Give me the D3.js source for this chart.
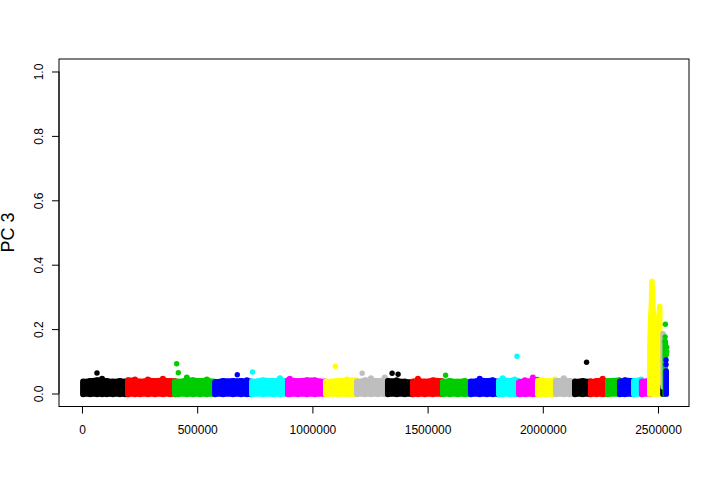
<!DOCTYPE html>
<html><head><meta charset="utf-8">
<script src="https://cdnjs.cloudflare.com/ajax/libs/d3/7.8.5/d3.min.js"></script>
<style>html,body{margin:0;padding:0;background:#fff}svg{display:block}text{font-family:"Liberation Sans",sans-serif;fill:#000}</style>
</head><body><svg id="c" width="720" height="480"></svg>
<script>
const BLACK="#000000",RED="#ff0000",GREEN="#00cd00",BLUE="#0000ff",CYAN="#00ffff",MAGENTA="#ff00ff",YELLOW="#ffff00",GRAY="#bebebe";
const seriesColors=[BLACK,RED,GREEN,BLUE,CYAN,MAGENTA,YELLOW,GRAY,BLACK,RED,GREEN,BLUE,CYAN,MAGENTA,YELLOW,GRAY,BLACK,RED,GREEN,BLUE,CYAN,MAGENTA,YELLOW,BLACK,GRAY,GREEN,BLUE];
const seriesPos=[
[5000,35000,65000,87000,108000,134000,165000,187000,200000],
[200000,230000,252000,286000,317000,351000,382000,403000],
[404000,416000,455000,482000,512000,542000,573000],
[578000,612000,655000,690000,716000,733000],
[738000,785000,829000,859000,889000],
[894000,902000,937000,976000,1011000,1054000],
[1059000,1106000,1150000,1189000],
[1194000,1228000,1254000,1284000,1314000,1323000],
[1328000,1366000,1401000,1434000],
[1437000,1458000,1488000,1523000,1562000],
[1567000,1596000,1631000,1661000,1685000],
[1688000,1726000,1757000,1783000,1807000],
[1810000,1826000,1857000,1878000,1894000],
[1897000,1922000,1957000,1976000],
[1979000,1991000,2013000,2039000,2054000],
[2057000,2091000,2117000,2137000],
[2140000,2173000,2206000],
[2209000,2234000,2260000,2280000],
[2283000,2332000],
[2335000,2356000,2393000],
[2396000,2427000],
[2430000,2464000],
[2464000,2464500,2468000,2472000,2474000,2476500,2479500,2484000,2490000,2497000,2501500,2505000,2507500,2508000],
[2521000,2522000],
[2522000,2523000],
[2531000,2532000],
[2535000,2536000]
];
const seriesTop=[
[.037,.039,.041,.046,.039,.037,.039,.037,.037],
[.041,.0435,.037,.0435,.039,.0455,.039,.039],
[.037,.037,.05,.041,.039,.0435,.037],
[.035,.039,.039,.039,.041,.037],
[.037,.041,.039,.0476,.039],
[.041,.0455,.039,.041,.041,.037],
[.037,.039,.0435,.041],
[.037,.041,.0476,.039,.0497,.041],
[.039,.041,.037,.035],
[.037,.0455,.037,.041,.039],
[.037,.039,.037,.039,.035],
[.037,.0455,.039,.041,.037],
[.039,.0476,.039,.0435,.039],
[.035,.041,.0497,.043],
[.039,.041,.039,.039,.0435],
[.039,.0476,.039,.037],
[.037,.039,.037],
[.037,.039,.0455,.037],
[.039,.041],
[.037,.041,.039],
[.039,.0435],
[.037,.041],
[.04,.15,.23,.29,.349,.30,.25,.22,.21,.205,.22,.25,.27,.27],
[.02,.02],
[.186,.186],
[.16,.16],
[.07,.07]
];
const seriesBase=[-.002,-.002,-.002,-.002,-.002,-.002,-.002,-.002,-.002,-.002,-.002,-.002,-.002,-.002,-.002,-.002,-.002,-.002,-.002,-.002,-.002,-.002,-.002,-.002,.02,-.002,-.002];
const outlierPos=[65000,411000,418000,674000,740000,1100000,1216000,1346000,1372000,1578000,1888000,2190000,2532000,2531000,2530000,2538000,2538000,2536000,2535000,2535000];
const outlierVal=[.0637,.0926,.0646,.0584,.0668,.0845,.0627,.0627,.060,.0565,.1155,.097,.215,.176,.163,.144,.13,.12,.104,.09];
const outlierColor=[BLACK,GREEN,GREEN,BLUE,CYAN,YELLOW,GRAY,BLACK,BLACK,GREEN,CYAN,BLACK,GREEN,GREEN,GREEN,GREEN,GREEN,GREEN,BLUE,BLUE];
const xTicks=[0,500000,1000000,1500000,2000000,2500000];
const yTicks=[0,.2,.4,.6,.8,1];
const yAxisTitle="PC 3";

const svg=d3.select("#c");
const x=d3.scaleLinear().domain([-99826,2634549]).range([59,689]);
const y=d3.scaleLinear().domain([-.0388,1.0388]).range([406,59]);
const DOT=5.4, STEM=6, TAIL_FROM=22;

const area=d3.area().x(d=>x(d.p)).y0(d=>y(d.b)).y1(d=>y(d.v));
const gS=svg.append("g");
seriesPos.forEach((ps,i)=>{
  const c=seriesColors[i], isTail=i>=TAIL_FROM;
  const low=d3.min(seriesTop[i]);
  const rows=ps.map((p,j)=>({p,v:isTail?seriesTop[i][j]:Math.min(low+.004,seriesTop[i][j]),b:seriesBase[i]}));
  const g=gS.append("g");
  g.append("path").attr("d",area(rows)).attr("fill",c).attr("stroke",c)
    .attr("stroke-width",DOT).attr("stroke-linejoin","round");
  if(!isTail){
    g.selectAll("line").data(ps).join("line")
      .attr("x1",d=>x(d)).attr("x2",d=>x(d))
      .attr("y1",y(seriesBase[i])).attr("y2",(d,j)=>y(seriesTop[i][j]))
      .attr("stroke",c).attr("stroke-width",STEM).attr("stroke-linecap","round");
  }
});
svg.append("g").selectAll("circle").data(outlierPos).join("circle")
  .attr("cx",d=>x(d)).attr("cy",(d,i)=>y(outlierVal[i])).attr("r",DOT/2).attr("fill",(d,i)=>outlierColor[i]);

svg.append("rect").attr("x",59).attr("y",59).attr("width",630).attr("height",347.5)
  .attr("fill","none").attr("stroke","#000").attr("stroke-width",1);

const gx=svg.append("g").attr("transform","translate(0,406.5)")
  .call(d3.axisBottom(x).tickValues(xTicks).tickSize(7).tickSizeOuter(0).tickFormat(d3.format("d")));
gx.select(".domain").attr("d",`M${x(0)},0H${x(2500000)}`);
gx.selectAll("text").attr("font-size",12).attr("font-family","Liberation Sans").attr("y",19).attr("dy","0.71em");

const gy=svg.append("g").attr("transform","translate(59,0)")
  .call(d3.axisLeft(y).tickValues(yTicks).tickSize(7).tickSizeOuter(0).tickFormat(d3.format(".1f")));
gy.select(".domain").attr("d",`M0,${y(0)}V${y(1)}`);
gy.selectAll(".tick text").attr("font-size",12).attr("font-family","Liberation Sans")
  .attr("text-anchor","middle").attr("x",0).attr("y",0).attr("dy",0)
  .attr("transform","translate(-16.5,0) rotate(-90)");

svg.append("text").attr("transform","translate(14,232.5) rotate(-90)").attr("text-anchor","middle")
  .attr("font-size",18).text(yAxisTitle);
</script></body></html>
